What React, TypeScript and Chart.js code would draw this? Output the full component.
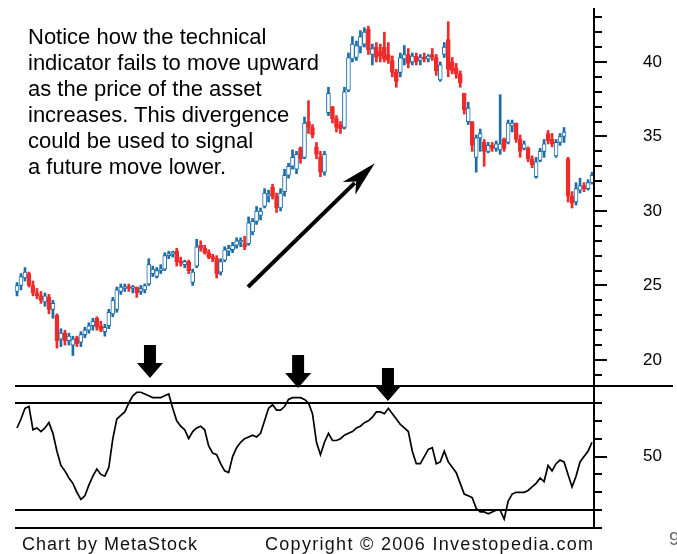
import React, { useEffect, useRef } from "react";
import { Chart, registerables } from "chart.js";

Chart.register(...registerables);

// ---- Daily OHLC ----
const openPrice = [
  24.6, 25.0, 25.5, 25.8, 25.0, 24.5, 24.3, 23.9, 24.2, 23.4,
  23.0, 21.4, 21.8, 21.3, 21.0, 21.5, 21.2, 21.7, 22.0, 22.3,
  22.8, 22.3, 21.9, 22.3, 23.1, 23.4, 24.6, 24.8, 24.9, 24.8,
  24.9, 24.6, 24.7, 25.1, 25.8, 25.6, 26.0, 26.1, 27.0, 27.1,
  27.3, 26.6, 26.4, 26.6, 25.2, 26.3, 27.7, 27.5, 27.2, 26.9,
  26.8, 25.9, 26.7, 27.3, 27.4, 27.7, 27.9, 27.8, 27.8, 28.6,
  29.3, 29.7, 30.3, 31.0, 31.6, 31.0, 30.2, 31.3, 32.4, 33.0,
  32.8, 34.2, 33.6, 36.0, 35.6, 34.3, 33.6, 32.6, 36.6, 37.0,
  36.2, 35.8, 35.6, 38.1, 40.2, 40.3, 41.0, 41.2, 42.2, 40.5,
  41.0, 40.7, 41.0, 40.5, 40.1, 39.3, 39.3, 40.2, 40.5, 40.0,
  40.4, 40.1, 40.3, 40.2, 40.5, 40.3, 38.8, 40.5, 41.5, 40.0,
  39.6, 39.2, 37.9, 36.0, 36.0, 33.6, 34.9, 34.6, 34.0, 34.4,
  34.2, 34.1, 34.8, 34.6, 35.7, 35.9, 34.8, 34.2, 34.2, 33.5,
  32.3, 33.4, 34.0, 35.2, 34.8, 33.7, 34.6, 35.0, 33.5, 31.0,
  30.6, 31.4, 31.7, 31.5, 31.9,
];
const highPrice = [
  25.2, 25.8, 26.2, 25.9, 25.3, 24.8, 24.6, 24.5, 24.4, 24.0,
  23.1, 22.1, 22.0, 21.8, 21.6, 21.6, 21.9, 22.2, 22.5, 22.8,
  22.9, 22.6, 22.4, 23.4, 24.2, 24.9, 25.1, 25.1, 25.1, 25.0,
  24.9, 25.0, 25.1, 26.8, 26.3, 26.2, 26.4, 27.2, 27.3, 27.3,
  27.5, 26.9, 26.7, 26.7, 26.1, 28.1, 28.0, 27.7, 27.4, 27.1,
  27.0, 26.8, 27.6, 27.7, 27.9, 28.2, 28.2, 28.3, 29.6, 29.5,
  30.3, 30.2, 31.5, 31.4, 31.8, 31.2, 31.5, 32.8, 33.2, 34.1,
  34.0, 34.3, 36.3, 37.4, 35.8, 34.6, 34.0, 34.0, 38.3, 37.0,
  36.4, 36.0, 38.3, 40.6, 41.7, 41.4, 42.1, 42.3, 42.4, 41.2,
  41.3, 41.2, 42.0, 41.3, 40.4, 39.5, 40.6, 41.1, 40.9, 40.6,
  40.6, 40.5, 40.6, 40.5, 40.9, 40.5, 40.0, 41.3, 42.7, 40.3,
  39.9, 39.4, 37.9, 37.3, 36.0, 35.1, 35.5, 34.8, 34.6, 34.6,
  34.7, 37.8, 34.9, 36.1, 36.1, 35.9, 35.1, 34.7, 34.3, 33.7,
  33.6, 34.2, 34.8, 35.4, 35.2, 34.8, 35.2, 35.6, 33.6, 31.3,
  31.9, 32.2, 31.9, 32.1, 32.6,
];
const lowPrice = [
  24.3, 24.7, 25.3, 24.9, 24.3, 24.1, 23.8, 23.6, 23.1, 22.8,
  20.8, 20.9, 21.0, 21.0, 20.3, 20.9, 20.9, 21.5, 21.8, 22.0,
  22.0, 21.9, 21.6, 22.1, 22.9, 23.2, 24.4, 24.6, 24.6, 24.5,
  24.2, 24.4, 24.5, 25.0, 25.6, 25.5, 25.8, 26.0, 26.8, 26.9,
  26.3, 26.3, 26.2, 25.8, 25.0, 26.2, 27.3, 27.1, 26.8, 26.6,
  25.5, 25.7, 26.6, 27.0, 27.2, 27.5, 27.6, 27.4, 27.7, 28.4,
  29.1, 29.4, 30.2, 30.6, 30.8, 29.9, 30.0, 31.0, 32.2, 32.8,
  32.5, 33.2, 33.5, 35.2, 34.9, 33.5, 32.3, 32.4, 36.4, 35.9,
  35.3, 35.2, 35.5, 38.0, 40.0, 40.1, 40.6, 41.0, 40.5, 39.8,
  40.0, 40.0, 40.0, 39.9, 39.0, 38.3, 39.0, 39.8, 39.6, 39.8,
  39.8, 39.8, 40.0, 40.0, 40.1, 39.1, 38.7, 40.3, 39.0, 39.2,
  38.9, 38.3, 36.5, 35.8, 34.0, 32.6, 34.0, 33.0, 33.9, 34.0,
  34.0, 33.8, 34.0, 34.5, 35.3, 34.6, 33.6, 34.1, 33.3, 32.9,
  32.2, 33.3, 33.6, 34.5, 34.3, 33.6, 34.4, 34.6, 30.6, 30.2,
  30.4, 31.2, 31.3, 31.4, 31.8,
];
const closePrice = [
  25.0, 25.6, 25.9, 25.0, 24.5, 24.3, 24.0, 24.3, 23.4, 23.8,
  21.3, 21.8, 21.3, 21.6, 21.4, 21.1, 21.7, 22.0, 22.3, 22.6,
  22.2, 22.0, 22.2, 23.2, 24.0, 24.7, 24.9, 24.9, 24.8, 24.9,
  24.5, 24.8, 25.0, 26.4, 26.1, 26.0, 26.1, 27.0, 27.1, 27.2,
  26.6, 26.5, 26.6, 26.0, 25.9, 27.6, 27.5, 27.2, 26.9, 26.8,
  25.8, 26.6, 27.4, 27.5, 27.7, 28.0, 28.0, 27.6, 29.2, 29.3,
  30.0, 30.0, 31.2, 31.1, 31.0, 30.2, 31.2, 32.4, 33.0, 33.6,
  33.8, 33.5, 35.9, 35.6, 35.1, 33.8, 32.6, 33.8, 37.9, 36.2,
  35.6, 35.5, 38.0, 40.3, 41.2, 41.1, 41.7, 42.0, 40.8, 40.9,
  40.3, 40.4, 40.2, 40.1, 39.3, 38.7, 40.3, 40.5, 39.9, 40.4,
  40.0, 40.3, 40.2, 40.4, 40.3, 39.4, 39.8, 41.0, 39.5, 39.4,
  39.2, 38.6, 36.8, 36.9, 34.4, 34.9, 35.2, 34.0, 34.4, 34.2,
  34.5, 34.5, 34.2, 35.9, 35.9, 34.8, 34.0, 34.5, 33.5, 33.1,
  33.3, 34.0, 34.5, 34.7, 34.5, 34.6, 35.0, 35.3, 31.0, 30.5,
  31.5, 31.7, 31.5, 31.9, 32.4,
];

// ---- Indicator (oscillator) values, one per day ----
const indicator = [
  66, 71, 77, 78, 65, 66, 64, 66, 69, 63,
  53, 45, 42, 38, 35, 30, 26, 28, 34, 39,
  43, 40, 39, 44, 60, 71, 73, 75, 80, 84,
  86, 86, 85, 84, 83, 83, 83, 84, 85, 77,
  70, 67, 65, 60, 64, 66, 67, 65, 56, 52,
  51, 46, 42, 41, 50, 55, 58, 60, 61, 62,
  61, 63, 70, 77, 79, 76, 76, 78, 82, 83,
  83, 83, 82, 80, 74, 58, 51, 58, 63, 59,
  59, 60, 62, 63, 64, 66, 67, 69, 70, 72,
  75, 75, 74, 77, 74, 71, 68, 66, 64, 53,
  46, 46, 50, 54, 55, 46, 47, 53, 47, 44,
  41, 35, 29, 28, 27, 21, 19, 19, 18, 19,
  20, 20, 15, 25, 29, 30, 30, 30, 31, 33,
  35, 38, 36, 45, 42, 46, 48, 47, 40, 33,
  39, 47, 50, 53, 58,
];

// ---- Axes ----
const priceTickLabels = [20, 25, 30, 35, 40];
const priceMinorTicks = [19, 20, 21, 22, 23, 24, 25, 26, 27, 28, 29, 30, 31, 32, 33, 34, 35, 36, 37, 38, 39, 40, 41, 42, 43];
const indicatorTickLabels = [50];
const indicatorMinorTicks = [10, 20, 30, 40, 50, 60, 70, 80];
const indicatorBands = [80, 20];

// ---- Annotations (in data coordinates) ----
const trendArrowDays = [57.85, 89.6];
const trendArrowPrices = [24.9, 33.2];
const peakArrowDays = [33.3, 70.4, 92.9];
const peakArrowTips = [94.0, 88.4, 81.1];

const noteLines = [
  "Notice how the technical",
  "indicator fails to move upward",
  "as the price of the asset",
  "increases. This divergence",
  "could be used to signal",
  "a future move lower.",
];

const BLUE = "#1b6ca8";
const RED = "#ee2a2a";
const W = 677;
const H = 554;
const AXIS_W = 83;
const LABEL_FONT = { family: "'Liberation Sans', Arial, sans-serif", size: 17, lineHeight: 0.85 };

export default function App() {
  const priceRef = useRef<HTMLCanvasElement | null>(null);
  const oscRef = useRef<HTMLCanvasElement | null>(null);

  useEffect(() => {
    document.body.style.margin = "0";
    const days = openPrice.map((_, i) => String(i + 1));
    const isUp = openPrice.map((o, i) => closePrice[i] >= o);

    const priceDecor = {
      id: "priceDecor",
      afterDraw(chart: any) {
        const { ctx, chartArea } = chart;
        const ys = chart.scales.y;
        const xs = chart.scales.x;
        ctx.save();
        ctx.strokeStyle = "#000";
        ctx.lineWidth = 2;
        ctx.beginPath();
        ctx.moveTo(chartArea.right, chartArea.top);
        ctx.lineTo(chartArea.right, chartArea.bottom);
        ctx.stroke();
        priceMinorTicks.forEach((v) => {
          const y = Math.round(ys.getPixelForValue(v));
          const len = priceTickLabels.includes(v) ? 13 : 8;
          ctx.beginPath();
          ctx.moveTo(chartArea.right, y);
          ctx.lineTo(chartArea.right + len, y);
          ctx.stroke();
        });
        // trend arrow
        const x1 = xs.getPixelForValue(trendArrowDays[0]);
        const y1 = ys.getPixelForValue(trendArrowPrices[0]);
        const x2 = xs.getPixelForValue(trendArrowDays[1]);
        const y2 = ys.getPixelForValue(trendArrowPrices[1]);
        const ang = Math.atan2(y2 - y1, x2 - x1);
        const c = Math.cos(ang);
        const s = Math.sin(ang);
        const headLen = 36;
        const headHalf = 9;
        const bx = x2 - headLen * c;
        const by = y2 - headLen * s;
        ctx.lineWidth = 4;
        ctx.lineCap = "butt";
        ctx.beginPath();
        ctx.moveTo(x1, y1);
        ctx.lineTo(bx + 8 * c, by + 8 * s);
        ctx.stroke();
        ctx.fillStyle = "#000";
        ctx.beginPath();
        ctx.moveTo(x2, y2);
        ctx.lineTo(bx + headHalf * s, by - headHalf * c);
        ctx.lineTo(bx + 10 * c, by + 10 * s);
        ctx.lineTo(bx - headHalf * s, by + headHalf * c);
        ctx.closePath();
        ctx.fill();
        ctx.restore();
      },
    };

    const oscDecor = {
      id: "oscDecor",
      afterDraw(chart: any) {
        const { ctx, chartArea } = chart;
        const ys = chart.scales.y;
        const xs = chart.scales.x;
        ctx.save();
        ctx.strokeStyle = "#000";
        ctx.lineWidth = 2;
        ctx.beginPath();
        ctx.moveTo(chartArea.left, chartArea.top);
        ctx.lineTo(W - 4, chartArea.top);
        ctx.stroke();
        indicatorBands.forEach((v) => {
          const y = Math.round(ys.getPixelForValue(v));
          ctx.beginPath();
          ctx.moveTo(chartArea.left, y);
          ctx.lineTo(chartArea.right, y);
          ctx.stroke();
        });
        ctx.beginPath();
        ctx.moveTo(chartArea.left, chartArea.bottom);
        ctx.lineTo(chartArea.right, chartArea.bottom);
        ctx.stroke();
        ctx.beginPath();
        ctx.moveTo(chartArea.right, chartArea.top);
        ctx.lineTo(chartArea.right, chartArea.bottom);
        ctx.stroke();
        indicatorMinorTicks.forEach((v) => {
          const y = Math.round(ys.getPixelForValue(v));
          const len = indicatorTickLabels.includes(v) ? 13 : 8;
          ctx.beginPath();
          ctx.moveTo(chartArea.right, y);
          ctx.lineTo(chartArea.right + len, y);
          ctx.stroke();
        });
        ctx.fillStyle = "#000";
        peakArrowDays.forEach((d, i) => {
          const x = xs.getPixelForValue(d);
          const tip = ys.getPixelForValue(peakArrowTips[i]);
          const total = 33;
          const headLen = 15;
          const shaftHalf = 6;
          const headHalf = 13;
          ctx.beginPath();
          ctx.moveTo(x - shaftHalf, tip - total);
          ctx.lineTo(x + shaftHalf, tip - total);
          ctx.lineTo(x + shaftHalf, tip - headLen);
          ctx.lineTo(x + headHalf, tip - headLen);
          ctx.lineTo(x, tip);
          ctx.lineTo(x - headHalf, tip - headLen);
          ctx.lineTo(x - shaftHalf, tip - headLen);
          ctx.closePath();
          ctx.fill();
        });
        ctx.restore();
      },
    };

    const yAxisCommon = {
      position: "right" as const,
      afterFit: (scale: any) => {
        scale.width = AXIS_W;
      },
      grid: { display: true, drawOnChartArea: false, drawTicks: true, tickLength: 49, tickColor: "rgba(0,0,0,0)" },
      border: { display: false },
      ticks: { padding: 0, color: "#000", font: LABEL_FONT },
    };

    const priceChart = new Chart(priceRef.current as HTMLCanvasElement, {
      type: "bar",
      data: {
        labels: days,
        datasets: [
          {
            label: "body",
            data: openPrice.map((o, i) => [o, closePrice[i]]) as any,
            backgroundColor: isUp.map((u) => (u ? "#ffffff" : RED)),
            borderColor: isUp.map((u) => (u ? BLUE : RED)),
            borderWidth: 1,
            borderSkipped: false,
            barThickness: 4,
            minBarLength: 2,
            grouped: false,
            order: 0,
          },
          {
            label: "range",
            data: lowPrice.map((l, i) => [l, highPrice[i]]) as any,
            backgroundColor: isUp.map((u) => (u ? BLUE : RED)),
            borderWidth: 0,
            barThickness: 2,
            grouped: false,
            order: 1,
          },
        ],
      },
      options: {
        animation: false,
        responsive: false,
        layout: { padding: { left: 15, top: 8, right: 0, bottom: H - 386 } },
        plugins: { legend: { display: false }, tooltip: { enabled: false } },
        scales: {
          x: { display: false, offset: true },
          y: {
            ...yAxisCommon,
            min: 18.255,
            max: 43.62,
            afterBuildTicks: (scale: any) => {
              scale.ticks = priceTickLabels.map((v) => ({ value: v }));
            },
          },
        },
      },
      plugins: [priceDecor],
    });

    const oscChart = new Chart(oscRef.current as HTMLCanvasElement, {
      type: "line",
      data: {
        labels: days,
        datasets: [
          {
            data: indicator,
            borderColor: "#000",
            borderWidth: 1.7,
            pointRadius: 0,
            tension: 0,
            fill: false,
          },
        ],
      },
      options: {
        animation: false,
        responsive: false,
        layout: { padding: { left: 15, top: 386, right: 0, bottom: H - 528 } },
        plugins: { legend: { display: false }, tooltip: { enabled: false } },
        scales: {
          x: { display: false, offset: true },
          y: {
            ...yAxisCommon,
            min: 10,
            max: 89.5,
            afterBuildTicks: (scale: any) => {
              scale.ticks = indicatorTickLabels.map((v) => ({ value: v }));
            },
          },
        },
      },
      plugins: [oscDecor],
    });

    return () => {
      priceChart.destroy();
      oscChart.destroy();
    };
  }, []);

  const canvasStyle: React.CSSProperties = { position: "absolute", left: 0, top: 0, display: "block" };

  return (
    <div style={{ position: "relative", width: W, height: H, overflow: "hidden", background: "#fff" }}>
      <canvas ref={priceRef} width={W} height={H} style={canvasStyle} />
      <canvas ref={oscRef} width={W} height={H} style={canvasStyle} />
      <div
        style={{
          position: "absolute",
          left: 28,
          top: 24,
          font: "22px 'Liberation Sans', Arial, sans-serif",
          lineHeight: "26px",
          color: "#000",
          whiteSpace: "nowrap",
        }}
      >
        {noteLines.map((t, i) => (
          <div key={i}>{t}</div>
        ))}
      </div>
      <div
        style={{
          position: "absolute",
          left: 22,
          top: 534,
          font: "18px 'Liberation Sans', Arial, sans-serif",
          letterSpacing: "1px",
          color: "#111",
          whiteSpace: "nowrap",
        }}
      >
        Chart by MetaStock
      </div>
      <div
        style={{
          position: "absolute",
          left: 265,
          top: 534,
          font: "18px 'Liberation Sans', Arial, sans-serif",
          letterSpacing: "1.3px",
          color: "#111",
          whiteSpace: "nowrap",
        }}
      >
        Copyright © 2006 Investopedia.com
      </div>
      <div
        style={{
          position: "absolute",
          left: 669,
          top: 528,
          font: "19px 'Liberation Sans', Arial, sans-serif",
          color: "#666",
          whiteSpace: "nowrap",
        }}
      >
        9
      </div>
    </div>
  );
}
